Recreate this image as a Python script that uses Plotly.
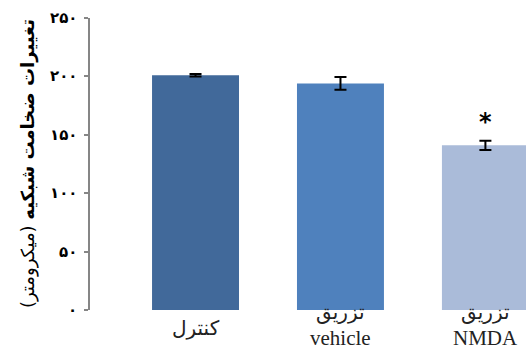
import plotly.graph_objects as go

# Data
categories = [0, 1, 2]
label_line1 = ["کنترل", "تزریق", "تزریق"]
label_line2 = ["", "vehicle", "NMDA"]
values = [201, 194, 141]
errors = [1, 5.5, 4]
bar_colors = ["#41699A", "#4F81BD", "#AABBD9"]
sig_marks = ["", "", "*"]
sig_y = [0, 0, 161]
y_tickvals = [0, 50, 100, 150, 200, 250]
y_ticktext = ["۰", "۵۰", "۱۰۰", "۱۵۰", "۲۰۰", "۲۵۰"]
y_title_bold = "تغییرات ضخامت شبکیه"
y_title_unit = "(میکرومتر)"

serif = "Liberation Serif, DejaVu Serif, serif"
arabic = "DejaVu Sans, sans-serif"

fig = go.Figure()
fig.add_trace(go.Bar(
    x=categories, y=values, width=0.6,
    marker=dict(color=bar_colors, line=dict(width=0)),
    error_y=dict(type="data", array=errors, color="black", thickness=2, width=6),
    showlegend=False,
))

annotations = []
for i, c in enumerate(categories):
    if label_line2[i]:
        annotations.append(dict(x=c, y=-0.0058, xref="x", yref="paper", text=label_line1[i],
                                showarrow=False, yanchor="middle",
                                font=dict(family=arabic, size=20, color="#222")))
        annotations.append(dict(x=c, y=-0.097, xref="x", yref="paper", text=label_line2[i],
                                showarrow=False, yanchor="middle",
                                font=dict(family=serif, size=21, color="#222")))
    else:
        annotations.append(dict(x=c, y=-0.062, xref="x", yref="paper", text=label_line1[i],
                                showarrow=False, yanchor="middle",
                                font=dict(family=arabic, size=20, color="#222")))
    if sig_marks[i]:
        annotations.append(dict(x=c, y=sig_y[i], xref="x", yref="y", text="<b>" + sig_marks[i] + "</b>",
                                showarrow=False, yanchor="middle",
                                font=dict(family="DejaVu Sans", size=24, color="black")))

annotations.append(dict(
    x=-0.142, y=0.5, xref="paper", yref="paper", textangle=-90, showarrow=False,
    xanchor="center", yanchor="middle",
    text="<b>" + y_title_bold + "</b> " + y_title_unit,
    font=dict(family=arabic, size=18, color="black"),
))

# y tick labels as annotations anchored on data y values
for v, t in zip(y_tickvals, y_ticktext):
    annotations.append(dict(x=-0.025, y=v, xref="paper", yref="y", text="<b>" + t + "</b>",
                            showarrow=False, xanchor="right", yanchor="middle",
                            font=dict(family=arabic, size=15, color="black")))

fig.update_layout(
    width=526, height=349,
    margin=dict(l=90, r=0, t=18, b=39),
    paper_bgcolor="white", plot_bgcolor="white",
    bargap=0.4,
    annotations=annotations,
    xaxis=dict(range=[-0.728, 2.28], showticklabels=False, showline=False,
               showgrid=False, zeroline=False, ticks=""),
    yaxis=dict(range=[0, 250], tickvals=y_tickvals, showticklabels=False,
               showline=True, linecolor="#868686", linewidth=1.5,
               ticks="outside", ticklen=4, tickcolor="#868686", tickwidth=1.5,
               showgrid=False, zeroline=False),
)

fig.write_html("out.html")
